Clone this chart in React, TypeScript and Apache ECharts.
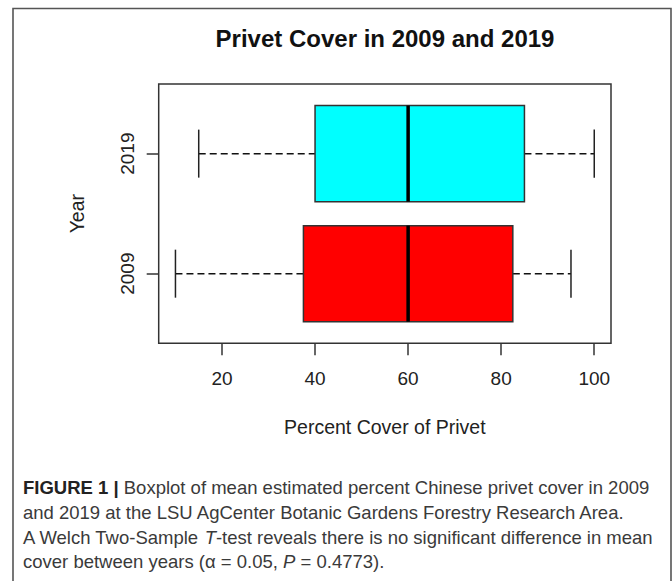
import React, { useEffect, useRef } from "react";
import * as echarts from "echarts";

const years = ["2009", "2019"];
const whiskerLow = [10, 15];
const q1 = [37.5, 40];
const median = [60, 60];
const q3 = [82.5, 85];
const whiskerHigh = [95, 100];
const xTicks = [20, 40, 60, 80, 100];
const boxColors = ["#ff0000", "#00ffff"];

const FONT = "'Liberation Sans', Arial, sans-serif";

export default function App() {
  const ref = useRef<HTMLDivElement>(null);
  useEffect(() => {
    if (!ref.current) return;
    const chart = echarts.init(ref.current, undefined, { renderer: "svg" });
    const data = years.map((_, i) => [i + 1, whiskerLow[i], q1[i], median[i], q3[i], whiskerHigh[i]]);
    const lineStyle = { stroke: "#222", lineWidth: 1.5 };
    const capText = { fontSize: 18.5, fontFamily: FONT, fill: "#3a3a3a" };
    const rich = {
      b: { fontWeight: "bold", fontSize: 18.5, fontFamily: FONT, fill: "#222" },
      i: { fontStyle: "italic", fontSize: 18.5, fontFamily: FONT, fill: "#3a3a3a" },
    };
    const caption = [
      "{b|FIGURE 1 |} Boxplot of mean estimated percent Chinese privet cover in 2009",
      "and 2019 at the LSU AgCenter Botanic Gardens Forestry Research Area.",
      "A Welch Two-Sample {i|T}-test reveals there is no significant difference in mean",
      "cover between years (α = 0.05, {i|P} = 0.4773).",
    ];
    const captionY = [487, 512, 537, 561];
    chart.setOption({
      animation: false,
      backgroundColor: "#fff",
      grid: {
        left: 158.7,
        right: 61,
        top: 84,
        bottom: 237.7,
        show: true,
        borderColor: "#333",
        borderWidth: 1.5,
        containLabel: false,
      },
      xAxis: {
        type: "value",
        min: 6.4,
        max: 103.6,
        name: "Percent Cover of Privet",
        nameLocation: "middle",
        nameGap: 74,
        nameTextStyle: { fontSize: 19.5, fontFamily: FONT, color: "#222", verticalAlign: "top" },
        axisLine: { show: false },
        splitLine: { show: false },
        axisTick: { show: true, length: 12, customValues: xTicks, lineStyle: { color: "#333", width: 1.5 } },
        axisLabel: { customValues: xTicks, margin: 26, fontSize: 19, fontFamily: FONT, color: "#222" },
      },
      yAxis: {
        type: "value",
        min: 0.42,
        max: 2.58,
        name: "Year",
        nameLocation: "middle",
        nameGap: 72,
        nameRotate: 90,
        nameTextStyle: { fontSize: 19.5, fontFamily: FONT, color: "#222" },
        axisLine: { show: false },
        splitLine: { show: false },
        axisTick: { show: true, length: 12, customValues: [1, 2], lineStyle: { color: "#333", width: 1.5 } },
        axisLabel: {
          customValues: [1, 2],
          rotate: 90,
          margin: 22,
          fontSize: 19,
          fontFamily: FONT,
          color: "#222",
          formatter: (v: number) => years[Math.round(v) - 1] ?? "",
        },
      },
      graphic: [
        {
          type: "rect",
          shape: { x: 13, y: 8.5, width: 658, height: 620 },
          style: { fill: "none", stroke: "#555", lineWidth: 1.6 },
          silent: true,
        },
        {
          type: "text",
          x: 385,
          y: 38,
          style: {
            text: "Privet Cover in 2009 and 2019",
            fontSize: 24,
            fontWeight: "bold",
            fontFamily: FONT,
            fill: "#111",
            textAlign: "center",
            textVerticalAlign: "middle",
          },
        },
        ...caption.map((t, k) => ({
          type: "text",
          x: 23,
          y: captionY[k],
          style: { ...capText, text: t, rich, textAlign: "left", textVerticalAlign: "middle" },
        })),
      ],
      series: [
        {
          type: "custom",
          data,
          encode: { x: [1, 2, 3, 4, 5], y: 0 },
          renderItem: (params: any, api: any) => {
            const yv = api.value(0);
            const lo = api.value(1);
            const a = api.value(2);
            const m = api.value(3);
            const b = api.value(4);
            const hi = api.value(5);
            const idx = params.dataIndex;
            const c = (x: number, y: number) => api.coord([x, y]);
            const pLo = c(lo, yv);
            const pA = c(a, yv);
            const pB = c(b, yv);
            const pHi = c(hi, yv);
            const top = c(a, yv + 0.4)[1];
            const bot = c(a, yv - 0.4)[1];
            const capTop = c(lo, yv + 0.2)[1];
            const capBot = c(lo, yv - 0.2)[1];
            const pm = c(m, yv);
            const dash = { stroke: "#111", lineWidth: 1.5, lineDash: [7, 4] };
            return {
              type: "group",
              children: [
                { type: "line", shape: { x1: pLo[0], y1: pLo[1], x2: pA[0], y2: pA[1] }, style: dash },
                { type: "line", shape: { x1: pB[0], y1: pB[1], x2: pHi[0], y2: pHi[1] }, style: dash },
                { type: "line", shape: { x1: pLo[0], y1: capTop, x2: pLo[0], y2: capBot }, style: lineStyle },
                { type: "line", shape: { x1: pHi[0], y1: capTop, x2: pHi[0], y2: capBot }, style: lineStyle },
                {
                  type: "rect",
                  shape: { x: pA[0], y: top, width: pB[0] - pA[0], height: bot - top },
                  style: { fill: boxColors[idx], stroke: "#333", lineWidth: 1.5 },
                },
                { type: "line", shape: { x1: pm[0], y1: top, x2: pm[0], y2: bot }, style: { stroke: "#000", lineWidth: 3.5 } },
              ],
            };
          },
        },
      ],
    });
    return () => chart.dispose();
  }, []);
  return (
    <div
      ref={ref}
      style={{ position: "absolute", left: 0, top: 0, width: 672, height: 581, background: "#fff" }}
    />
  );
}
